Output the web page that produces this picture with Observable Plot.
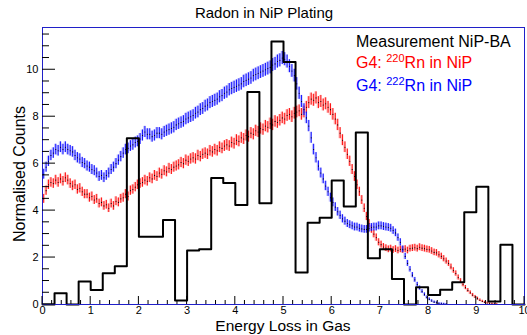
<!DOCTYPE html>
<html><head><meta charset="utf-8">
<script src="https://cdn.jsdelivr.net/npm/d3@7"></script>
<script src="https://cdn.jsdelivr.net/npm/@observablehq/plot@0.6"></script>
<style>
body{margin:0;background:#fff;}
#wrap{width:527px;height:335px;}
</style></head><body><div id="wrap"></div>
<script>
// Measurement NiP-BA: 40 bins of width 0.25 from 0 to 10
const measBinWidth = 0.25;
const measValues = [0,0.48,0,0.98,0.62,1.33,1.63,7.08,2.89,2.89,3.6,0.17,2.3,2.35,5.39,5.18,4.24,9.05,4.31,11.2,
  10.33,1.36,3.48,3.7,5.28,4.17,7.33,1.97,2.35,1.09,0,0.74,0.41,0.63,0.95,3.93,5.02,0.13,2.55,0];

// G4 simulations, bins of width 0.05 starting at 0
const simBinWidth = 0.05;
const rn220 = [4.5,4.85,5.1,5.2,5.15,5.3,5.2,5.35,5.25,5.4,5.3,5.15,5.05,5.1,4.9,4.95,4.8,4.7,4.7,4.55,
  4.6,4.45,4.5,4.3,4.35,4.2,4.25,4.1,4.3,4.2,4.4,4.35,4.5,4.55,4.7,4.6,4.85,4.9,5.0,5.1,
  5.15,5.2,5.3,5.25,5.4,5.35,5.5,5.45,5.6,5.55,5.7,5.65,5.8,5.75,5.85,5.9,5.95,6.05,6.0,6.15,
  6.1,6.2,6.25,6.2,6.35,6.3,6.4,6.45,6.4,6.55,6.5,6.6,6.55,6.7,6.65,6.75,6.8,6.75,6.9,6.85,
  7.0,6.95,7.1,7.05,7.2,7.15,7.3,7.25,7.4,7.35,7.5,7.45,7.6,7.55,7.7,7.65,7.8,7.75,7.85,7.95,
  7.9,8.05,8.1,8.0,8.15,8.2,8.25,8.1,8.2,8.4,8.6,8.75,8.7,8.8,8.6,8.65,8.5,8.55,8.4,8.3,
  8.1,7.9,7.65,7.3,7.0,6.7,6.4,6.1,5.75,5.45,5.1,4.8,4.45,4.1,3.75,3.45,3.2,3.0,2.85,2.65,
  2.55,2.45,2.4,2.35,2.38,2.32,2.36,2.3,2.35,2.32,2.36,2.3,2.38,2.4,2.42,2.38,2.44,2.4,2.38,2.35,
  2.33,2.28,2.22,2.2,2.12,2.05,1.95,1.85,1.75,1.6,1.45,1.32,1.15,1.0,0.85,0.72,0.6,0.5,0.4,0.32,
  0.25,0.18,0.13,0.09,0.06,0.04,0.03,0.02,0.01];
const rn222 = [5.55,5.85,6.1,6.35,6.45,6.6,6.55,6.7,6.6,6.7,6.6,6.55,6.5,6.35,6.25,6.2,6.05,6.0,5.9,5.85,
  5.75,5.7,5.6,5.45,5.5,5.4,5.5,5.6,5.75,5.85,6.0,6.15,6.3,6.45,6.6,6.65,6.75,6.8,6.9,6.95,
  7.05,7.2,7.35,7.25,7.25,7.15,7.2,7.3,7.3,7.25,7.35,7.4,7.45,7.5,7.55,7.65,7.7,7.75,7.8,7.9,
  7.95,8.0,8.05,8.15,8.2,8.3,8.35,8.45,8.5,8.6,8.65,8.7,8.75,8.85,8.9,9.0,9.05,9.15,9.2,9.25,
  9.3,9.35,9.4,9.5,9.55,9.6,9.65,9.75,9.8,9.85,9.9,9.95,10.0,10.05,10.1,10.2,10.25,10.35,10.4,10.5,
  10.45,10.35,10.15,9.95,9.75,9.4,9.0,8.65,8.3,7.95,7.6,7.1,6.6,6.25,5.9,5.6,5.35,5.05,4.8,4.55,
  4.35,4.15,3.95,3.8,3.65,3.55,3.45,3.4,3.35,3.3,3.3,3.25,3.22,3.2,3.2,3.25,3.28,3.3,3.3,3.35,
  3.35,3.32,3.3,3.28,3.25,3.15,3.05,2.85,2.65,2.35,2.05,1.75,1.5,1.25,1.05,0.85,0.7,0.55,0.42,0.3,
  0.22,0.15,0.1,0.07,0.04,0.03,0.02,0.01];

const xTicks = [0,1,2,3,4,5,6,7,8,9,10];
const yTicks = [0,2,4,6,8,10];

function simRows(vals) {
  return vals.map((v, i) => {
    const e = 0.08 * Math.sqrt(v) + 0.02;
    return {x1: i * simBinWidth, x2: (i + 1) * simBinWidth, xm: (i + 0.5) * simBinWidth, v, lo: Math.max(0, v - e), hi: v + e};
  });
}
const red = simRows(rn220);
const blue = simRows(rn222);
const steps = measValues.map((v, i) => ({x: i * measBinWidth, y: v}))
  .concat([{x: measValues.length * measBinWidth, y: measValues[measValues.length - 1]}]);

const font = "Liberation Sans, Arial, Helvetica, sans-serif";
const plot = Plot.plot({
  width: 527, height: 335,
  marginLeft: 42, marginRight: 3, marginTop: 27, marginBottom: 31,
  x: {domain: [0, 10], label: null},
  y: {domain: [0, 11.8], label: null},
  style: {fontFamily: font, fontSize: "11px", color: "#000", background: "#fff"},
  marks: [
    Plot.rect(red, {x1: "x1", x2: "x2", y1: "lo", y2: "hi", fill: "#ff7070", fillOpacity: 0.45}),
    Plot.ruleX(red, {x: "xm", y1: "lo", y2: "hi", stroke: "#ff0000", strokeWidth: 0.9}),
    Plot.dot(red, {x: "xm", y: "v", r: 0.55, fill: "#000", stroke: null}),
    Plot.rect(blue, {x1: "x1", x2: "x2", y1: "lo", y2: "hi", fill: "#7070ff", fillOpacity: 0.45}),
    Plot.ruleX(blue, {x: "xm", y1: "lo", y2: "hi", stroke: "#0000ff", strokeWidth: 0.9}),
    Plot.dot(blue, {x: "xm", y: "v", r: 0.55, fill: "#000", stroke: null}),
    Plot.line(steps, {x: "x", y: "y", curve: "step-after", stroke: "#000", strokeWidth: 2}),
    Plot.frame({stroke: "#2020c8", strokeWidth: 1}),
    Plot.axisX({ticks: xTicks, tickSize: 0, tickPadding: 2, label: null, fontSize: 11}),
    Plot.axisY({ticks: yTicks, tickSize: 0, tickPadding: 4, label: null, fontSize: 11})
  ]
});
document.getElementById("wrap").appendChild(plot);

const sx = plot.scale("x"), sy = plot.scale("y");
const svg = d3.select(plot);
const g = svg.append("g").attr("stroke", "#000").attr("stroke-width", 1);
const y0 = sy.apply(0), x0 = sx.apply(0);
for (let k = 0; k <= 50; k++) {
  const v = k * 0.2, px = sx.apply(v), len = (k % 5 === 0) ? 8 : 4;
  g.append("line").attr("x1", px).attr("x2", px).attr("y1", y0).attr("y2", y0 - len);
}
for (let k = 0; k <= 23; k++) {
  const v = k * 0.5, py = sy.apply(v), len = (k % 4 === 0) ? 13 : 7;
  g.append("line").attr("x1", x0).attr("x2", x0 + len).attr("y1", py).attr("y2", py);
}
function txt(x, y, s, opts = {}) {
  return svg.append("text").attr("x", x).attr("y", y).attr("font-family", font)
    .attr("font-size", opts.size || 16).attr("fill", opts.fill || "#000")
    .attr("text-anchor", opts.anchor || "start").attr("transform", opts.transform || null).text(s);
}
txt(264, 17.5, "Radon in NiP Plating", {size: 15, anchor: "middle"});
txt(283, 330.5, "Energy Loss in Gas", {size: 15.5, anchor: "middle"});
txt(0, 0, "Normalised Counts", {size: 16, anchor: "middle", transform: "translate(25,174) rotate(-90)"});
txt(356, 46.7, "Measurement NiP-BA", {size: 16});
function legendIso(y, iso, color) {
  const t = svg.append("text").attr("x", 356).attr("y", y).attr("font-family", font)
    .attr("font-size", 16).attr("fill", color).attr("text-anchor", "start");
  t.append("tspan").text("G4: ");
  t.append("tspan").attr("font-size", 11).attr("dy", -6).text(iso);
  t.append("tspan").attr("dy", 6).text("Rn in NiP");
}
legendIso(68.3, "220", "#ff0000");
legendIso(90.7, "222", "#0000ff");
</script></body></html>
